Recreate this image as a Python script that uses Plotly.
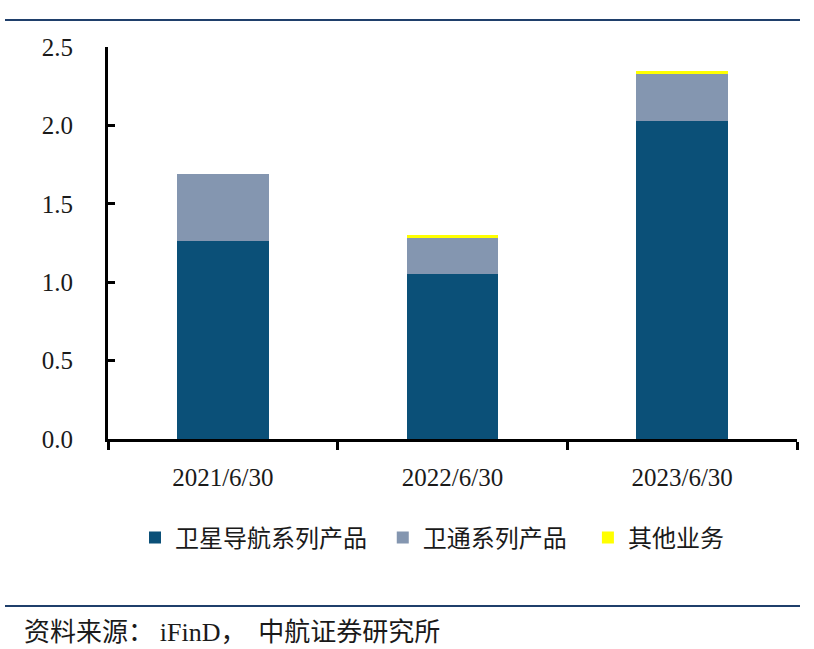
import plotly.graph_objects as go

categories = ["2021/6/30", "2022/6/30", "2023/6/30"]
series_names = ["卫星导航系列产品", "卫通系列产品", "其他业务"]
nav_values = [1.26, 1.05, 2.03]
satcom_values = [0.43, 0.23, 0.30]
other_values = [0.00, 0.02, 0.02]
colors = ["#0B5078", "#8496B0", "#FFFF00"]
y_ticks = [0.0, 0.5, 1.0, 1.5, 2.0, 2.5]

W, H = 814, 649
L, R, T, B = 108, 17, 47, 210
pw, ph = W - L - R, H - T - B

def px(x):
    return (x - L) / pw

def py(y):
    return (H - B - y) / ph

fig = go.Figure()
pads = ["\u00a0\u00a0", "\u00a0\u00a0\u00a0", ""]
for name, vals, c, pad in zip(series_names, [nav_values, satcom_values, other_values], colors, pads):
    fig.add_trace(go.Bar(x=categories, y=vals, name=name + pad, marker_color=c,
                         marker_line_width=0, width=0.4))

font_fam = "Liberation Serif, Noto Sans CJK SC, serif"
fig.update_layout(
    width=W, height=H,
    barmode="stack",
    margin=dict(l=L, r=R, t=T, b=B),
    paper_bgcolor="white", plot_bgcolor="white",
    font=dict(family=font_fam, size=24, color="#1a1a1a"),
    showlegend=True,
    legend=dict(orientation="h", x=px(432), xanchor="center", y=py(538), yanchor="middle",
                font=dict(family="Noto Sans CJK SC", size=24, color="#1a1a1a"),
                itemwidth=30, traceorder="normal", itemclick=False),
    xaxis=dict(showline=True, linecolor="black", linewidth=3, ticks="outside",
               tickson="boundaries", ticklen=8, tickwidth=3, tickcolor="black",
               showgrid=False, tickfont=dict(size=25, family=font_fam), range=[-0.5, 2.5],
               ticklabelstandoff=14),
    yaxis=dict(range=[0, 2.5], tickvals=y_ticks, ticktext=[f"{v:.1f}" for v in y_ticks],
               showline=True, linecolor="black", linewidth=3, ticks="inside",
               ticklen=7, tickwidth=3, tickcolor="black", showgrid=False, zeroline=False,
               tickfont=dict(size=25, family=font_fam), ticklabelstandoff=27),
    shapes=[
        dict(type="line", xref="paper", yref="paper", x0=px(5), x1=px(800), y0=py(20), y1=py(20),
             line=dict(color="#1F3F6B", width=2)),
        dict(type="line", xref="paper", yref="paper", x0=px(5), x1=px(800), y0=py(606), y1=py(606),
             line=dict(color="#1F3F6B", width=2)),
    ],
    annotations=[
        dict(text="资料来源：\u00a0<span style='font-family:Liberation Serif'>iFinD</span>，\u00a0\u00a0中航证券研究所",
             xref="paper", yref="paper",
             x=px(22), y=py(629), xanchor="left", yanchor="middle", showarrow=False,
             font=dict(family="Noto Sans CJK SC", size=26, color="#1a1a1a")),
    ],
)

fig.write_html("out.html", config={"displayModeBar": False},
               post_script="document.body.style.margin='0';")
